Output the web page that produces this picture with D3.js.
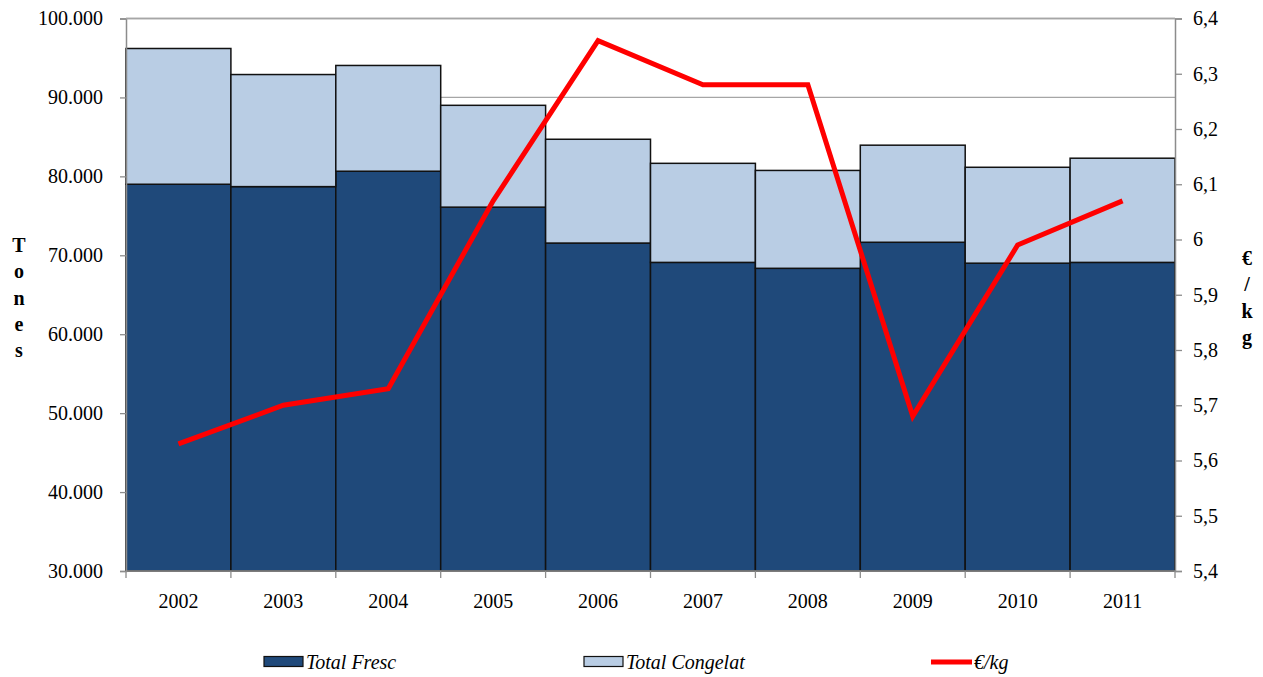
<!DOCTYPE html>
<html><head><meta charset="utf-8">
<script src="https://cdn.jsdelivr.net/npm/d3@7"></script>
<style>body{margin:0;background:#fff;}</style>
</head><body>
<svg id="c" width="1263" height="677" font-family="Liberation Serif"></svg>
<script>
const years = ["2002","2003","2004","2005","2006","2007","2008","2009","2010","2011"];
const fresc = [79000, 78700, 80650, 76100, 71550, 69100, 68350, 71650, 69000, 69100];
const congelat = [17200, 14200, 13400, 12900, 13150, 12550, 12400, 12300, 12150, 13200];
const price = [5.63, 5.70, 5.73, 6.07, 6.36, 6.28, 6.28, 5.68, 5.99, 6.07];
const leftTicks = [30000,40000,50000,60000,70000,80000,90000,100000];
const rightTicks = [5.4,5.5,5.6,5.7,5.8,5.9,6.0,6.1,6.2,6.3,6.4];

const svg = d3.select("#c");
const FONT = "Liberation Serif";
const L=126, R=1175, T=18.5, B=571;
const FS = 20;
const x = d3.scaleBand().domain(years).range([L,R]).padding(0);
const y = d3.scaleLinear().domain([30000,100000]).range([B,T]);
const y2 = d3.scaleLinear().domain([5.4,6.4]).range([B,T]);
const fmtL = d => d3.format(",")(d).replace(/,/g,".") ;
const fmtR = d => (Math.round(d*10)/10).toString().replace(".",",");

// gridlines
svg.append("g").selectAll("line").data(leftTicks.filter(d=>d>30000)).join("line")
  .attr("x1",L).attr("x2",R).attr("y1",d=>y(d)).attr("y2",d=>y(d))
  .attr("stroke","#a6a6a6").attr("stroke-width",1.3);

// bars
const g = svg.append("g");
g.selectAll("rect.f").data(years).join("rect").attr("class","f")
  .attr("x",d=>x(d)).attr("width",x.bandwidth())
  .attr("y",(d,i)=>y(fresc[i])).attr("height",(d,i)=>y(30000)-y(fresc[i]))
  .attr("fill","#1f497a").attr("stroke","#111").attr("stroke-width",1.5);
g.selectAll("rect.c").data(years).join("rect").attr("class","c")
  .attr("x",d=>x(d)).attr("width",x.bandwidth())
  .attr("y",(d,i)=>y(fresc[i]+congelat[i])).attr("height",(d,i)=>y(fresc[i])-y(fresc[i]+congelat[i]))
  .attr("fill","#b9cde4").attr("stroke","#111").attr("stroke-width",1.5);

// axes
const axL = svg.append("g").attr("transform",`translate(${L},0)`)
  .call(d3.axisLeft(y).tickValues(leftTicks).tickFormat(fmtL).tickSize(6).tickPadding(17));
const axR = svg.append("g").attr("transform",`translate(${R},0)`)
  .call(d3.axisRight(y2).tickValues(rightTicks).tickFormat(fmtR).tickSize(7).tickPadding(11));
const axB = svg.append("g").attr("transform",`translate(0,${B})`)
  .call(d3.axisBottom(x).tickSize(0).tickPadding(23));
// bottom ticks at band boundaries
svg.append("g").selectAll("line").data(d3.range(years.length+1)).join("line")
  .attr("x1",i=>L+i*x.step()).attr("x2",i=>L+i*x.step())
  .attr("y1",B).attr("y2",B+7).attr("stroke","#8c8c8c").attr("stroke-width",1.3);
[axL,axR,axB].forEach(a=>{
  a.attr("font-family",FONT).attr("font-size",FS);
  a.selectAll("path").attr("stroke","#8c8c8c").attr("stroke-width",1.5);
  a.selectAll("line").attr("stroke","#8c8c8c").attr("stroke-width",1.3);
  a.selectAll("text").attr("font-family",FONT).style("font-family",FONT).attr("font-size",FS).attr("fill","#000");
});
axB.select("path").attr("d",`M${L},0H${R}`);
// top border line
svg.append("line").attr("x1",L).attr("x2",R).attr("y1",T).attr("y2",T).attr("stroke","#a6a6a6").attr("stroke-width",1.5);

// price line
const line = d3.line().x((d,i)=>x(years[i])+x.bandwidth()/2).y(d=>y2(d));
svg.append("path").datum(price).attr("d",line).attr("fill","none")
  .attr("stroke","#ff0000").attr("stroke-width",5).attr("stroke-linejoin","miter");

// axis titles (stacked letters)
const stack = (chars, cx, y0) => {
  svg.append("g").selectAll("text").data(chars).join("text")
    .attr("x",cx).attr("y",(d,i)=>y0+i*26.3).attr("text-anchor","middle")
    .attr("font-family",FONT).style("font-family",FONT)
    .attr("font-weight","bold").attr("font-size",FS).text(d=>d);
};
stack(["T","o","n","e","s"], 19, 252);
stack(["€","/","k","g"], 1247, 265);

// legend
const lg = svg.append("g");
const legText = (xx, t) => lg.append("text").attr("x",xx).attr("y",669)
  .attr("font-family",FONT).style("font-family",FONT)
  .attr("font-style","italic").attr("font-size",FS).text(t);
lg.append("rect").attr("x",264).attr("y",656.5).attr("width",39).attr("height",10).attr("fill","#1f497a").attr("stroke","#111").attr("stroke-width",1.2);
legText(306, "Total Fresc");
lg.append("rect").attr("x",584).attr("y",656.5).attr("width",39).attr("height",10).attr("fill","#b9cde4").attr("stroke","#111").attr("stroke-width",1.2);
legText(626, "Total Congelat");
lg.append("line").attr("x1",931).attr("x2",972).attr("y1",662).attr("y2",662).attr("stroke","#ff0000").attr("stroke-width",5);
legText(974, "€/kg");
</script>
</body></html>
